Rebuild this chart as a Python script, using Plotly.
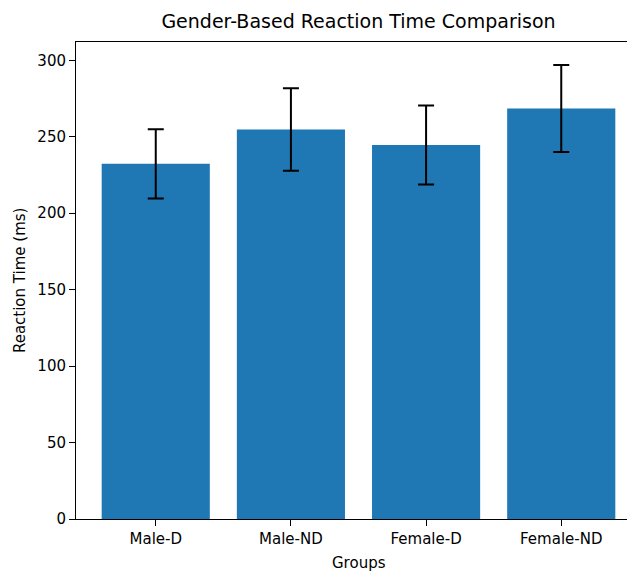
import plotly.graph_objects as go

groups = ["Male-D", "Male-ND", "Female-D", "Female-ND"]
means = [232.3, 254.8, 244.6, 268.5]
errors = [22.6, 27.0, 25.8, 28.5]
y_ticks = [0, 50, 100, 150, 200, 250, 300]

font_family = "DejaVu Sans"
OFF = 8  # page body margin
# target page coordinates of the axes box (right spine lies beyond the window edge)
PL, PR, PT, PB = 75.5, 641.5, 42, 519
W, H = 640, 572 - OFF
L, R, T, B = PL - OFF, PR - OFF, PT - OFF, PB - OFF

fig = go.Figure()
fig.add_trace(go.Bar(
    x=list(range(len(groups))),
    y=means,
    width=0.8,
    marker=dict(color="#1f77b4", line=dict(width=0)),
    error_y=dict(type="data", array=errors, visible=True,
                 color="black", thickness=2, width=8),
))

fig.update_layout(
    width=W, height=H,
    margin=dict(l=L, r=W - R, t=T, b=H - B),
    plot_bgcolor="white", paper_bgcolor="white",
    showlegend=False,
    title=dict(text="Gender-Based Reaction Time Comparison",
               x=(L + R) / 2 / W, xanchor="center",
               y=1 - (21 - OFF) / H, yanchor="middle",
               font=dict(family=font_family, size=19, color="black")),
    font=dict(family=font_family, size=15, color="black"),
    annotations=[
        dict(text="Groups", xref="paper", yref="paper",
             x=0.5, y=-(563 - OFF - B) / (B - T), xanchor="center", yanchor="middle",
             showarrow=False, font=dict(family=font_family, size=15)),
        dict(text="Reaction Time (ms)", xref="paper", yref="paper",
             x=-(L - (19 - OFF)) / (R - L), y=0.5, xanchor="center", yanchor="middle",
             textangle=-90, showarrow=False, font=dict(family=font_family, size=15)),
    ],
)

fig.update_xaxes(
    range=[-0.59, 3.59], automargin=False,
    tickmode="array", tickvals=list(range(len(groups))), ticktext=groups,
    showline=True, linecolor="black", linewidth=1, mirror=True,
    ticks="outside", ticklen=6, tickcolor="black",
    showgrid=False, zeroline=False,
    tickfont=dict(family=font_family, size=15),
)
fig.update_yaxes(
    range=[0, 312], automargin=False,
    tickmode="array", tickvals=y_ticks,
    showline=True, linecolor="black", linewidth=1, mirror=False,
    ticks="outside", ticklen=6, tickcolor="black",
    showgrid=False, zeroline=False,
    tickfont=dict(family=font_family, size=15),
)

fig.write_html(
    "out.html",
    post_script="document.documentElement.style.overflow='hidden';"
                "document.body.style.overflow='hidden';",
)
